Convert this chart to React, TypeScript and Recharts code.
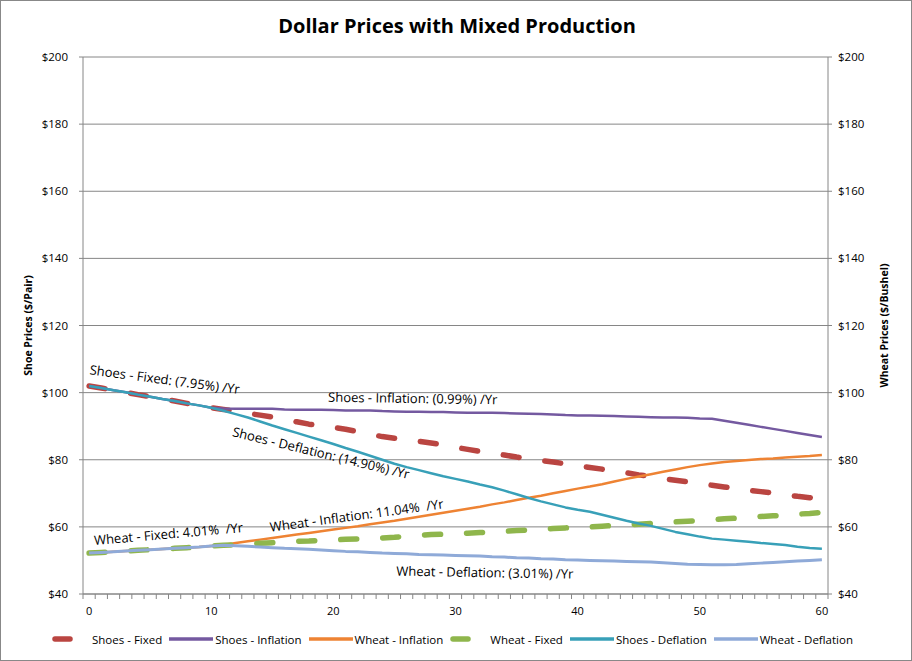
import React from 'react';
import { LineChart, Line, XAxis, YAxis, CartesianGrid, Legend, ReferenceDot } from 'recharts';

// years 0..60 (category axis)
const years = Array.from({ length: 61 }, (_, i) => i);

const shoesFixed = [
  102.0, 101.4, 100.7, 100.1, 99.4, 98.8, 98.1, 97.5, 96.8, 96.2,
  95.5, 95.0, 94.4, 93.8, 93.3, 92.7, 92.0, 91.3, 90.6, 90.1,
  89.6, 89.1, 88.4, 87.6, 86.9, 86.4, 85.9, 85.5, 85.0, 84.4,
  83.7, 83.1, 82.5, 82.0, 81.4, 80.8, 80.3, 79.8, 79.3, 78.8,
  78.2, 77.7, 77.2, 76.6, 76.1, 75.5, 75.0, 74.4, 73.9, 73.4,
  72.9, 72.4, 71.9, 71.4, 70.9, 70.5, 70.1, 69.6, 69.1, 68.7,
  68.3,
];

const shoesInflation = [
  102.0, 101.4, 100.7, 100.1, 99.4, 98.8, 98.1, 97.5, 96.8, 96.2,
  95.5, 95.3, 95.2, 95.2, 95.2, 95.2, 95.0, 94.9, 94.9, 94.9,
  94.8, 94.7, 94.7, 94.7, 94.5, 94.4, 94.3, 94.3, 94.2, 94.2,
  94.1, 94.0, 94.0, 94.0, 93.9, 93.8, 93.7, 93.6, 93.5, 93.3,
  93.2, 93.2, 93.1, 93.0, 92.9, 92.8, 92.7, 92.6, 92.6, 92.5,
  92.3, 92.2, 91.6, 91.0, 90.4, 89.8, 89.2, 88.6, 88.0, 87.4,
  86.8,
];

const wheatInflation = [
  52.2, 52.4, 52.6, 52.8, 53.0, 53.2, 53.4, 53.6, 53.8, 54.0,
  54.3, 54.6, 55.2, 55.7, 56.2, 56.7, 57.2, 57.7, 58.2, 58.7,
  59.2, 59.7, 60.2, 60.8, 61.3, 61.8, 62.4, 63.0, 63.6, 64.2,
  64.8, 65.4, 66.0, 66.7, 67.3, 68.0, 68.7, 69.3, 70.0, 70.7,
  71.4, 72.0, 72.7, 73.5, 74.3, 75.0, 75.7, 76.4, 77.1, 77.8,
  78.4, 78.9, 79.3, 79.6, 79.9, 80.2, 80.4, 80.7, 80.9, 81.1,
  81.4,
];

const wheatFixed = [
  52.2, 52.4, 52.6, 52.8, 53.0, 53.2, 53.4, 53.6, 53.8, 54.0,
  54.3, 54.5, 54.7, 54.9, 55.1, 55.3, 55.5, 55.7, 55.8, 56.0,
  56.1, 56.3, 56.4, 56.6, 56.7, 56.9, 57.2, 57.5, 57.7, 57.8,
  58.0, 58.1, 58.3, 58.5, 58.7, 58.9, 59.1, 59.3, 59.5, 59.7,
  59.8, 60.0, 60.2, 60.4, 60.6, 60.8, 61.0, 61.3, 61.5, 61.7,
  61.9, 62.1, 62.4, 62.6, 62.8, 63.1, 63.3, 63.5, 63.8, 64.0,
  64.3,
];

const shoesDeflation = [
  102.0, 101.4, 100.7, 100.1, 99.4, 98.8, 98.1, 97.5, 96.8, 96.2,
  95.5, 94.6, 93.6, 92.6, 91.4, 90.2, 89.1, 88.0, 86.9, 85.8,
  84.7, 83.5, 82.4, 81.2, 80.0, 78.8, 77.8, 76.9, 76.0, 75.1,
  74.3, 73.5, 72.6, 71.8, 70.8, 69.7, 68.6, 67.6, 66.7, 65.8,
  65.1, 64.5, 63.6, 62.7, 61.8, 61.0, 60.3, 59.4, 58.5, 57.8,
  57.1, 56.5, 56.2, 55.9, 55.6, 55.2, 54.9, 54.6, 54.1, 53.7,
  53.5,
];

const wheatDeflation = [
  52.2, 52.4, 52.6, 52.8, 53.0, 53.2, 53.4, 53.6, 53.8, 54.0,
  54.3, 54.5, 54.4, 54.2, 54.0, 53.8, 53.6, 53.5, 53.3, 53.1,
  52.9, 52.7, 52.6, 52.4, 52.2, 52.1, 52.0, 51.8, 51.7, 51.6,
  51.5, 51.4, 51.3, 51.1, 51.0, 50.8, 50.7, 50.5, 50.4, 50.2,
  50.1, 50.0, 49.9, 49.8, 49.7, 49.6, 49.5, 49.3, 49.1, 48.9,
  48.8, 48.7, 48.7, 48.8, 49.0, 49.2, 49.4, 49.6, 49.8, 50.0,
  50.2,
];

const xLabelTicks = [0, 10, 20, 30, 40, 50, 60];
const yTicks = [40, 60, 80, 100, 120, 140, 160, 180, 200];

// text notes placed on the plot, in data units (year, price)
const notes = [
  { year: 6.2, price: 104.0, angle: 7.5, text: 'Shoes - Fixed: (7.95%) /Yr' },
  { year: 26.5, price: 98.4, angle: 0.9, text: 'Shoes - Inflation: (0.99%) /Yr' },
  { year: 19.0, price: 82.1, angle: 13.7, text: 'Shoes - Deflation: (14.90%) /Yr' },
  { year: 21.9, price: 63.5, angle: -7.7, text: 'Wheat - Inflation: 11.04%  /Yr' },
  { year: 6.5, price: 58.0, angle: -5, text: 'Wheat - Fixed: 4.01%  /Yr' },
  { year: 32.4, price: 46.5, angle: 1, text: 'Wheat - Deflation: (3.01%) /Yr' },
];

const FONT = "'Open Sans', 'Noto Sans', sans-serif";
const GRID = '#868686';

const series = [
  { key: 'shoesFixed', name: 'Shoes - Fixed', color: '#BA4541', width: 5.5, dash: '16 26', axis: 'left' },
  { key: 'shoesInflation', name: 'Shoes - Inflation', color: '#7459A0', width: 2.5, dash: undefined, axis: 'left' },
  { key: 'wheatInflation', name: 'Wheat - Inflation', color: '#EE8333', width: 2.5, dash: undefined, axis: 'right' },
  { key: 'wheatFixed', name: 'Wheat - Fixed', color: '#8FB64C', width: 5.5, dash: '16 26', axis: 'right' },
  { key: 'shoesDeflation', name: 'Shoes - Deflation', color: '#38A0B8', width: 2.5, dash: undefined, axis: 'left' },
  { key: 'wheatDeflation', name: 'Wheat - Deflation', color: '#8FAAD8', width: 3, dash: undefined, axis: 'right' },
];

const data = years.map((year, i) => ({
  year,
  shoesFixed: shoesFixed[i],
  shoesInflation: shoesInflation[i],
  wheatInflation: wheatInflation[i],
  wheatFixed: wheatFixed[i],
  shoesDeflation: shoesDeflation[i],
  wheatDeflation: wheatDeflation[i],
}));

// tick marks sit between categories, labels on every 10th year
const halfTicks = [-0.5, ...years.map((y) => y + 0.5)];
const xTicks = [...halfTicks, ...xLabelTicks].sort((a, b) => a - b);

const XTick = (props: any) => {
  const { x, y, payload } = props;
  const v = payload.value;
  if (!Number.isInteger(v)) {
    return <line x1={x} x2={x} y1={y - 5} y2={y} stroke={GRID} strokeWidth={1} />;
  }
  return (
    <text x={x} y={y + 16} textAnchor="middle" fontFamily={FONT} fontSize={11} fill="#000">
      {v}
    </text>
  );
};

const YTick = (props: any) => {
  const { x, y, payload, textAnchor } = props;
  return (
    <text x={x} y={y} dy={4} textAnchor={textAnchor} fontFamily={FONT} fontSize={11.5} fill="#000">
      ${payload.value}
    </text>
  );
};

const AxisTitle = ({ viewBox, value, dx }: any) => {
  const cx = viewBox.x + dx;
  const cy = viewBox.y + viewBox.height / 2;
  return (
    <text
      x={cx}
      y={cy}
      transform={`rotate(-90 ${cx} ${cy})`}
      textAnchor="middle"
      dominantBaseline="central"
      fontFamily={FONT}
      fontSize={10.5}
      fontWeight="bold"
      fill="#000"
    >
      {value}
    </text>
  );
};

const noteLabel = (text: string, angle: number) => (props: any) => {
  const vb = props.viewBox;
  const cx = vb.x + vb.width / 2;
  const cy = vb.y + vb.height / 2;
  return (
    <text
      x={cx}
      y={cy}
      transform={`rotate(${angle} ${cx} ${cy})`}
      textAnchor="middle"
      dominantBaseline="central"
      fontFamily={FONT}
      fontSize={13}
      fill="#000"
      style={{ whiteSpace: 'pre' }}
    >
      {text}
    </text>
  );
};

const LegendBox = () => (
  <div
    style={{
      display: 'flex',
      justifyContent: 'center',
      alignItems: 'center',
      height: 30,
      fontFamily: FONT,
      fontSize: 11.5,
      color: '#000',
    }}
  >
    {series.map((s) => (
      <div key={s.key} style={{ display: 'flex', alignItems: 'center', marginRight: 7 }}>
        <svg width={s.dash ? 38 : 44} height={10} style={{ marginRight: 2 }}>
          <line
            x1={s.dash ? 3 : 0}
            x2={s.dash ? 18 : 44}
            y1={5}
            y2={5}
            stroke={s.color}
            strokeWidth={s.dash ? 5.5 : 3.5}
            strokeLinecap={s.dash ? 'round' : 'butt'}
          />
        </svg>
        <span>{s.name}</span>
      </div>
    ))}
  </div>
);

export default function App() {
  return (
    <div
      style={{
        position: 'absolute',
        left: 0,
        top: 0,
        width: 912,
        height: 661,
        boxSizing: 'border-box',
        border: '1px solid #888',
        background: '#fff',
      }}
    >
      <div
        style={{
          position: 'absolute',
          top: 11,
          left: 0,
          width: 912,
          textAlign: 'center',
          fontFamily: FONT,
          fontWeight: 'bold',
          fontSize: 20,
          color: '#000',
        }}
      >
        Dollar Prices with Mixed Production
      </div>
      <div style={{ position: 'absolute', left: -1, top: -1 }}>
        <LineChart width={912} height={661} data={data} margin={{ top: 57, right: 0, bottom: 7, left: 0 }}>
          <CartesianGrid yAxisId="left" vertical={false} stroke={GRID} strokeWidth={1} />
          <XAxis
            dataKey="year"
            type="number"
            domain={[-0.5, 60.5]}
            ticks={xTicks}
            interval={0}
            tick={<XTick />}
            tickLine={false}
            tickSize={5}
            tickMargin={0}
            axisLine={{ stroke: GRID }}
            height={30}
            allowDecimals
          />
          <YAxis
            yAxisId="left"
            orientation="left"
            width={83}
            domain={[40, 200]}
            ticks={yTicks}
            interval={0}
            tick={<YTick />}
            tickLine={{ stroke: GRID }}
            tickSize={4}
            tickMargin={11}
            axisLine={{ stroke: GRID }}
            allowDataOverflow
            label={{ content: (p: any) => <AxisTitle {...p} value="Shoe Prices ($/Pair)" dx={28} /> }}
          />
          <YAxis
            yAxisId="right"
            orientation="right"
            width={84}
            domain={[40, 200]}
            ticks={yTicks}
            interval={0}
            tick={<YTick />}
            tickLine={{ stroke: GRID }}
            tickSize={4}
            tickMargin={6}
            axisLine={{ stroke: GRID }}
            allowDataOverflow
            label={{ content: (p: any) => <AxisTitle {...p} value="Wheat Prices ($/Bushel)" dx={56} /> }}
          />
          {series.map((s) => (
            <Line
              key={s.key}
              yAxisId={s.axis}
              type="linear"
              dataKey={s.key}
              name={s.name}
              stroke={s.color}
              strokeWidth={s.width}
              strokeDasharray={s.dash}
              strokeLinecap={s.dash ? 'round' : 'butt'}
              strokeLinejoin="round"
              dot={false}
              activeDot={false}
              isAnimationActive={false}
            />
          ))}
          {notes.map((n) => (
            <ReferenceDot
              key={n.text}
              yAxisId="left"
              x={n.year}
              y={n.price}
              r={2}
              fill="none"
              stroke="none"
              label={noteLabel(n.text, n.angle)}
            />
          ))}
          <Legend verticalAlign="bottom" height={30} content={() => <LegendBox />} />
        </LineChart>
      </div>
    </div>
  );
}
